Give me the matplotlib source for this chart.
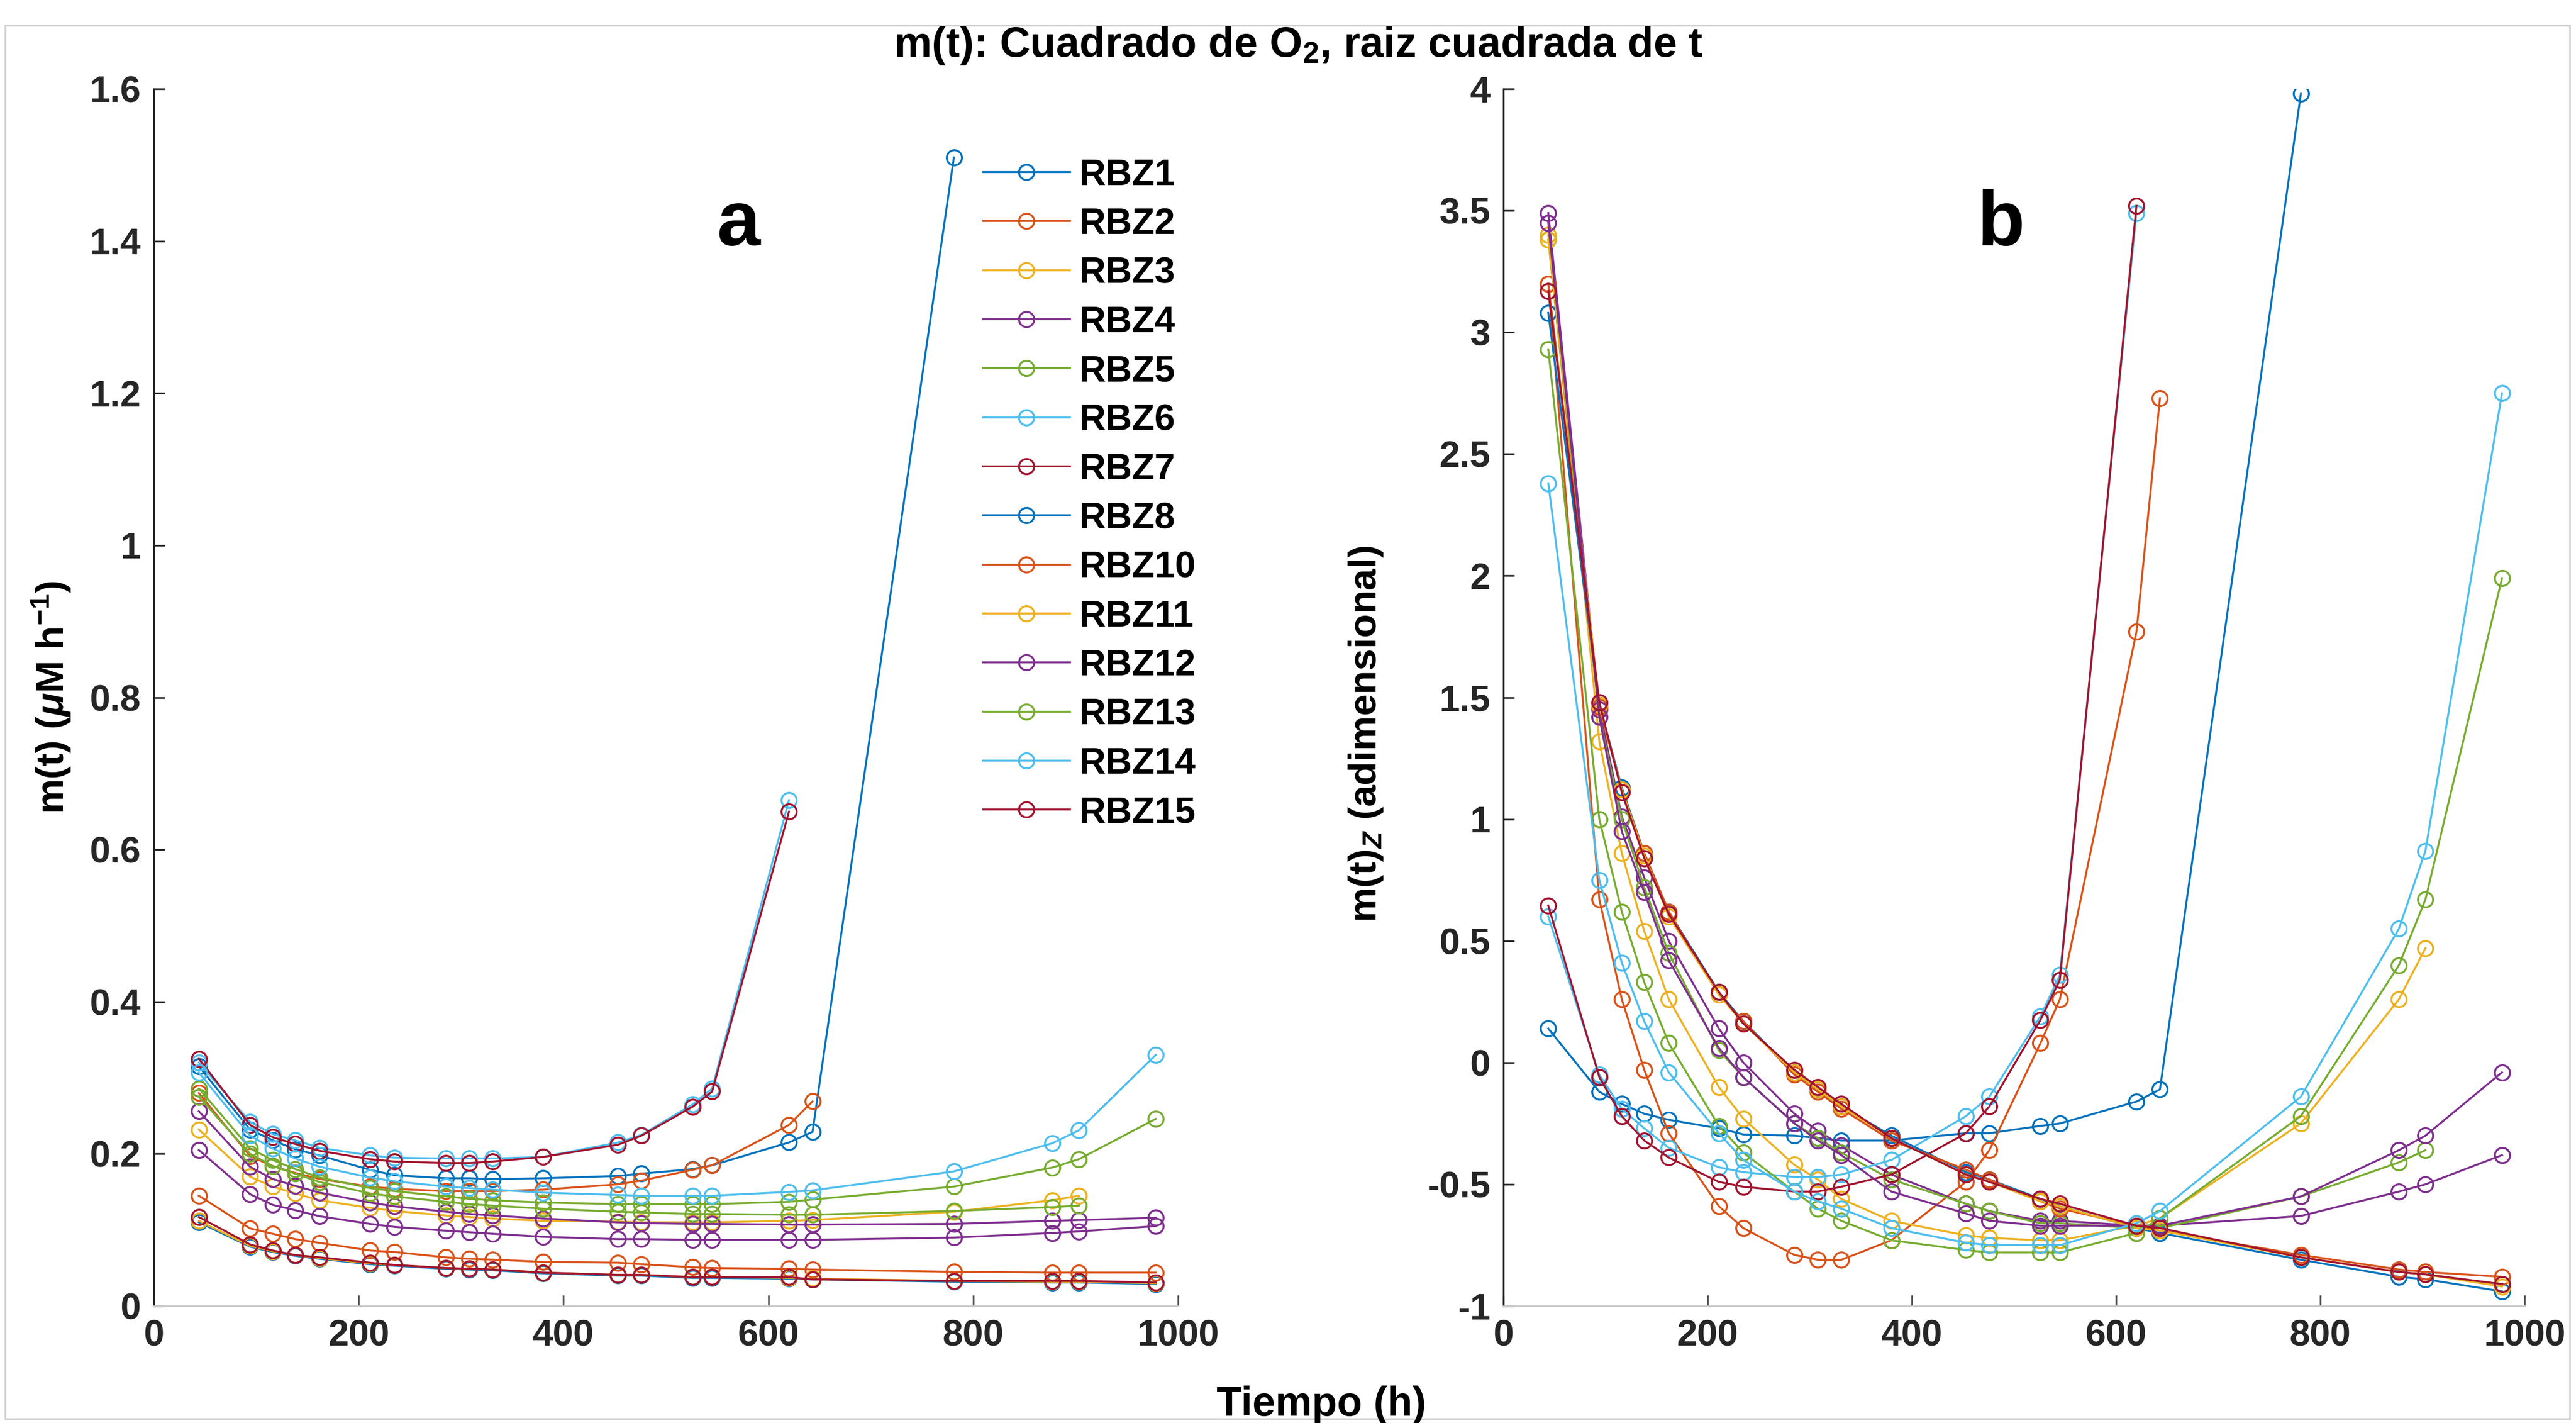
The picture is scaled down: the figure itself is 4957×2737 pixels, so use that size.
import matplotlib
matplotlib.use("Agg")
import matplotlib.pyplot as plt
from matplotlib.patches import Rectangle
from matplotlib.ticker import FormatStrFormatter

plt.rcParams['font.family'] = ['Liberation Sans', 'DejaVu Sans']
plt.rcParams['font.weight'] = 'bold'
plt.rcParams['mathtext.fontset'] = 'custom'
plt.rcParams['mathtext.rm'] = 'Liberation Sans:bold'
plt.rcParams['mathtext.it'] = 'Liberation Sans:bold:italic'
plt.rcParams['mathtext.bf'] = 'Liberation Sans:bold'

# sampling times (h)
t = [44, 94, 116, 138, 162, 211, 235, 285, 308, 331, 380, 453, 476, 526, 545, 620, 643, 781, 877, 903, 978]

# a: m(t) in uM/h, b: z-score of m(t)
rbz1_a = [0.315, 0.232, 0.218, 0.206, 0.198, 0.179, 0.172, 0.168, 0.168, 0.167, 0.168, 0.171, 0.174, 0.180, 0.185, 0.215, 0.229, 1.510]
rbz1_b = [0.14, -0.12, -0.17, -0.21, -0.235, -0.27, -0.295, -0.30, -0.31, -0.32, -0.32, -0.29, -0.29, -0.26, -0.25, -0.16, -0.11, 3.98]
rbz2_a = [0.280, 0.197, 0.184, 0.175, 0.167, 0.157, 0.154, 0.151, 0.151, 0.151, 0.153, 0.160, 0.165, 0.179, 0.185, 0.238, 0.269]
rbz2_b = [3.20, 0.67, 0.26, -0.03, -0.29, -0.59, -0.68, -0.79, -0.81, -0.81, -0.73, -0.49, -0.36, 0.08, 0.26, 1.77, 2.73]
rbz3_a = [0.232, 0.170, 0.157, 0.148, 0.139, 0.129, 0.125, 0.119, 0.117, 0.115, 0.112, 0.111, 0.110, 0.110, 0.110, 0.112, 0.113, 0.124, 0.139, 0.145]
rbz3_b = [3.40, 1.32, 0.86, 0.54, 0.26, -0.10, -0.23, -0.42, -0.48, -0.56, -0.65, -0.71, -0.72, -0.73, -0.73, -0.67, -0.64, -0.25, 0.26, 0.47]
rbz4_a = [0.256, 0.183, 0.167, 0.158, 0.149, 0.136, 0.131, 0.124, 0.121, 0.119, 0.115, 0.110, 0.109, 0.108, 0.108, 0.107, 0.107, 0.108, 0.112, 0.113, 0.116]
rbz4_b = [3.49, 1.45, 1.01, 0.76, 0.50, 0.14, 0.00, -0.21, -0.28, -0.34, -0.46, -0.58, -0.61, -0.65, -0.65, -0.67, -0.67, -0.63, -0.53, -0.50, -0.38]
rbz5_a = [0.275, 0.200, 0.184, 0.174, 0.163, 0.148, 0.144, 0.137, 0.134, 0.132, 0.128, 0.124, 0.123, 0.121, 0.121, 0.120, 0.120, 0.125, 0.130, 0.132]
rbz5_b = [3.38, 1.42, 1.00, 0.72, 0.45, 0.05, -0.06, -0.25, -0.31, -0.37, -0.48, -0.58, -0.61, -0.66, -0.66, -0.68, -0.68, -0.55, -0.41, -0.36]
rbz6_a = [0.320, 0.242, 0.226, 0.218, 0.208, 0.198, 0.195, 0.194, 0.194, 0.194, 0.196, 0.215, 0.225, 0.265, 0.286, 0.665]
rbz6_b = [0.60, -0.05, -0.19, -0.27, -0.35, -0.43, -0.45, -0.47, -0.47, -0.46, -0.40, -0.22, -0.14, 0.19, 0.36, 3.49]
rbz7_a = [0.325, 0.238, 0.222, 0.213, 0.204, 0.193, 0.190, 0.188, 0.188, 0.190, 0.196, 0.212, 0.224, 0.262, 0.282, 0.650]
rbz7_b = [0.645, -0.06, -0.22, -0.32, -0.39, -0.49, -0.51, -0.53, -0.53, -0.51, -0.46, -0.29, -0.18, 0.175, 0.34, 3.52]
rbz8_a = [0.110, 0.078, 0.071, 0.066, 0.062, 0.055, 0.053, 0.049, 0.048, 0.047, 0.043, 0.040, 0.040, 0.037, 0.037, 0.036, 0.035, 0.032, 0.031, 0.031, 0.029]
rbz8_b = [3.08, 1.47, 1.13, 0.86, 0.62, 0.29, 0.17, -0.04, -0.11, -0.18, -0.30, -0.45, -0.48, -0.56, -0.59, -0.68, -0.70, -0.81, -0.88, -0.89, -0.94]
rbz10_a = [0.145, 0.102, 0.095, 0.088, 0.083, 0.073, 0.071, 0.064, 0.062, 0.061, 0.058, 0.057, 0.055, 0.051, 0.050, 0.049, 0.048, 0.045, 0.044, 0.044, 0.044]
rbz10_b = [3.20, 1.46, 1.12, 0.86, 0.62, 0.28, 0.17, -0.05, -0.12, -0.19, -0.32, -0.44, -0.48, -0.57, -0.60, -0.67, -0.69, -0.79, -0.85, -0.86, -0.88]
rbz11_a = [0.112, 0.079, 0.072, 0.067, 0.063, 0.056, 0.054, 0.050, 0.049, 0.048, 0.044, 0.041, 0.041, 0.038, 0.038, 0.037, 0.036, 0.033, 0.032, 0.032, 0.030]
rbz11_b = [3.38, 1.47, 1.12, 0.85, 0.60, 0.28, 0.16, -0.04, -0.11, -0.18, -0.31, -0.46, -0.49, -0.57, -0.59, -0.68, -0.69, -0.80, -0.86, -0.87, -0.92]
rbz12_a = [0.205, 0.147, 0.133, 0.126, 0.118, 0.108, 0.104, 0.099, 0.097, 0.095, 0.091, 0.088, 0.088, 0.087, 0.087, 0.087, 0.087, 0.090, 0.096, 0.098, 0.105]
rbz12_b = [3.45, 1.42, 0.95, 0.70, 0.42, 0.06, -0.06, -0.25, -0.32, -0.38, -0.53, -0.62, -0.65, -0.67, -0.67, -0.67, -0.67, -0.55, -0.36, -0.30, -0.04]
rbz13_a = [0.286, 0.207, 0.192, 0.180, 0.169, 0.155, 0.151, 0.144, 0.141, 0.139, 0.136, 0.134, 0.134, 0.134, 0.134, 0.137, 0.140, 0.157, 0.182, 0.193, 0.246]
rbz13_b = [2.93, 1.00, 0.62, 0.33, 0.08, -0.26, -0.37, -0.53, -0.60, -0.65, -0.73, -0.77, -0.78, -0.78, -0.78, -0.70, -0.64, -0.22, 0.40, 0.67, 1.99]
rbz14_a = [0.307, 0.224, 0.207, 0.194, 0.183, 0.169, 0.164, 0.157, 0.155, 0.153, 0.149, 0.146, 0.145, 0.145, 0.145, 0.150, 0.152, 0.177, 0.214, 0.231, 0.330]
rbz14_b = [2.38, 0.75, 0.41, 0.17, -0.04, -0.29, -0.40, -0.53, -0.57, -0.60, -0.68, -0.74, -0.75, -0.75, -0.75, -0.66, -0.61, -0.14, 0.55, 0.87, 2.75]
rbz15_a = [0.117, 0.081, 0.073, 0.067, 0.064, 0.057, 0.054, 0.050, 0.049, 0.048, 0.044, 0.041, 0.041, 0.038, 0.038, 0.038, 0.035, 0.033, 0.033, 0.033, 0.031]
rbz15_b = [3.17, 1.48, 1.11, 0.84, 0.61, 0.29, 0.16, -0.03, -0.10, -0.17, -0.31, -0.46, -0.49, -0.56, -0.58, -0.67, -0.68, -0.80, -0.86, -0.87, -0.91]

names = ["RBZ1", "RBZ2", "RBZ3", "RBZ4", "RBZ5", "RBZ6", "RBZ7", "RBZ8",
         "RBZ10", "RBZ11", "RBZ12", "RBZ13", "RBZ14", "RBZ15"]
panel_a = [rbz1_a, rbz2_a, rbz3_a, rbz4_a, rbz5_a, rbz6_a, rbz7_a, rbz8_a,
           rbz10_a, rbz11_a, rbz12_a, rbz13_a, rbz14_a, rbz15_a]
panel_b = [rbz1_b, rbz2_b, rbz3_b, rbz4_b, rbz5_b, rbz6_b, rbz7_b, rbz8_b,
           rbz10_b, rbz11_b, rbz12_b, rbz13_b, rbz14_b, rbz15_b]

# matlab default colour order
colors = ['#0072BD', '#D95319', '#EDB120', '#7E2F8E', '#77AC30', '#4DBEEE', '#A2142F']

fig = plt.figure(figsize=(4957 / 300, 2737 / 300), dpi=300)
ax1 = fig.add_axes([0.0597, 0.0822, 0.3977, 0.8553])
ax2 = fig.add_axes([0.5836, 0.0822, 0.3964, 0.8553])

for i in range(len(names)):
    c = colors[i % 7]
    ya = panel_a[i]
    yb = panel_b[i]
    ax1.plot(t[:len(ya)], ya, '-o', color=c, lw=0.9, ms=7, mfc='none', mew=0.9, label=names[i])
    ax2.plot(t[:len(yb)], yb, '-o', color=c, lw=0.9, ms=7, mfc='none', mew=0.9)

ax1.set_xlim(0, 1000)
ax1.set_ylim(0, 1.6)
ax1.set_yticks([0, 0.2, 0.4, 0.6, 0.8, 1.0, 1.2, 1.4, 1.6])
ax2.set_xlim(0, 1000)
ax2.set_ylim(-1, 4)
ax2.set_yticks([-1, -0.5, 0, 0.5, 1, 1.5, 2, 2.5, 3, 3.5, 4])

for ax in [ax1, ax2]:
    ax.set_xticks([0, 200, 400, 600, 800, 1000])
    ax.yaxis.set_major_formatter(FormatStrFormatter('%g'))
    ax.spines['top'].set_visible(False)
    ax.spines['right'].set_visible(False)
    ax.spines['left'].set_color('#262626')
    ax.spines['left'].set_linewidth(0.8)
    ax.spines['bottom'].set_color('#c8c8c8')
    ax.spines['bottom'].set_linewidth(0.8)
    ax.tick_params(direction='in', length=5, width=0.8, labelsize=17, colors='#262626', pad=6)
    ax.tick_params(axis='x', color='#555555')
    for lab in ax.get_xticklabels() + ax.get_yticklabels():
        lab.set_fontweight('bold')

ax1.set_ylabel(r'm(t) ($\mu$M h$^{-1}$)', fontsize=18, fontweight='bold')
ax2.set_ylabel(r'm(t)$_Z$ (adimensional)', fontsize=18, fontweight='bold')
ax1.yaxis.set_label_coords(-0.079, 0.5)
ax2.yaxis.set_label_coords(-0.116, 0.47)

ax1.text(0.571, 0.888, 'a', transform=ax1.transAxes, fontsize=36, fontweight='bold', ha='center', va='center')
ax2.text(0.487, 0.888, 'b', transform=ax2.transAxes, fontsize=36, fontweight='bold', ha='center', va='center')

ax1.legend(loc='upper left', bbox_to_anchor=(0.795, 0.955), frameon=False,
           prop={'size': 17, 'weight': 'bold'}, handlelength=2.36, handletextpad=0.25,
           labelspacing=0.40, borderaxespad=0)

fig.text(0.504, 0.968, r'm(t): Cuadrado de O$_2$, raiz cuadrada de t', ha='center', va='center',
         fontsize=19.5, fontweight='bold')
fig.text(0.513, 0.0125, 'Tiempo (h)', ha='center', va='center', fontsize=19, fontweight='bold')

# thin frame round the whole picture
fig.patches.append(Rectangle((0.002, 0.003), 0.9955, 0.979, transform=fig.transFigure,
                             fill=False, edgecolor='#d0d0d0', lw=0.8))

fig.savefig('out.png', dpi=300)
